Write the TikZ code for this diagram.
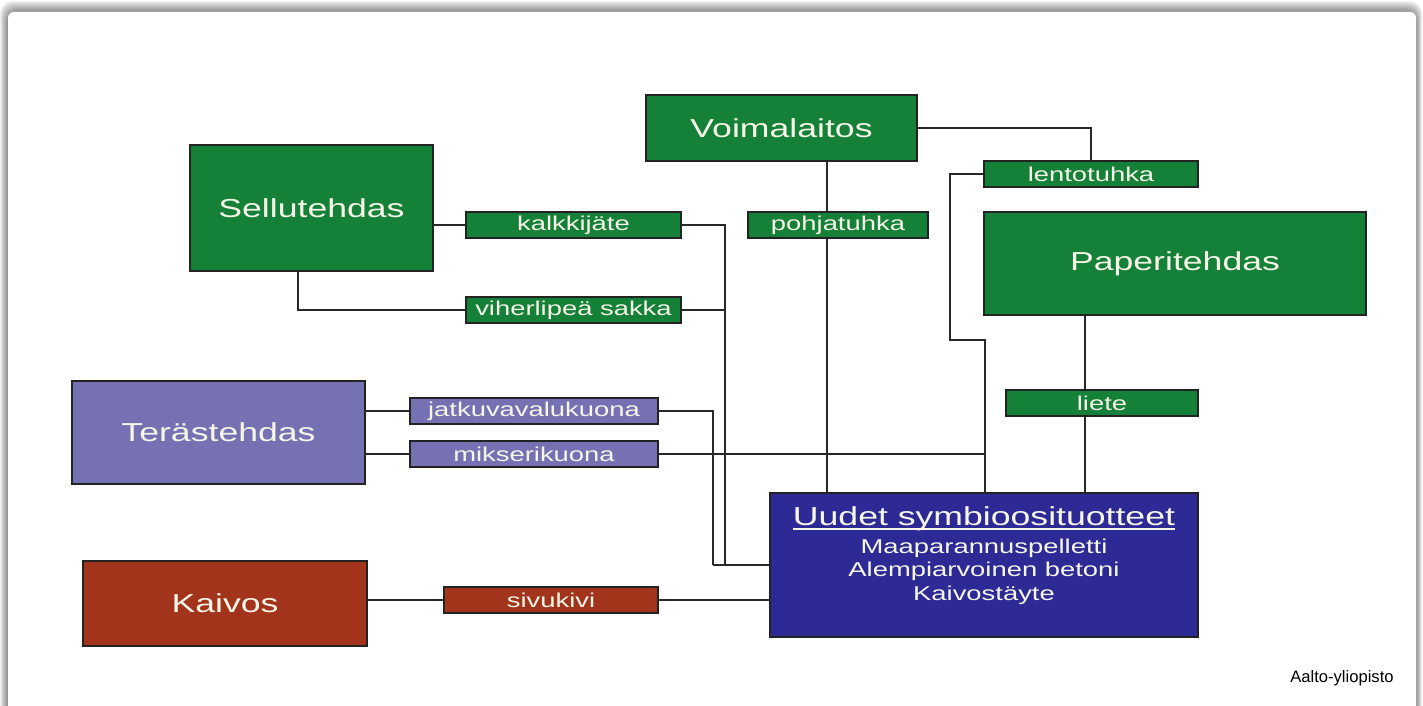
\documentclass[tikz,border=0pt]{standalone}
\usepackage{fontspec}
\setmainfont{Liberation Sans}
\usepackage{graphicx}
\usetikzlibrary{calc}
\definecolor{grn}{RGB}{20,128,56}
\definecolor{prp}{RGB}{118,113,178}
\definecolor{blu}{RGB}{45,42,150}
\definecolor{redb}{RGB}{163,52,28}
\definecolor{edge}{RGB}{35,35,35}
\definecolor{wirec}{RGB}{40,40,40}
\definecolor{txt}{RGB}{246,246,232}
\newcommand\sx[1]{\scalebox{1.37}[1]{#1}}
\pgfdeclarelayer{back}
\pgfdeclarelayer{wires}
\pgfsetlayers{back,wires,main}
\begin{document}
\begin{tikzpicture}[x=0.5pt,y=-0.5pt,
  box/.style={draw=edge, line width=0.75pt, inner sep=0pt, outer sep=0pt, anchor=north west,
    text=txt, font=\fontsize{13}{15}\selectfont},
  tag/.style={box, font=\fontsize{10}{12}\selectfont, minimum height=13pt},
  sub/.style={font=\fontsize{10}{12}\selectfont, text=txt, anchor=base, inner sep=0pt},
  wire/.style={draw=wirec, line width=0.75pt}]
\useasboundingbox (0,0) rectangle (1423,706);
\begin{pgfonlayer}{back}
  \fill[white] (0,0) rectangle (1423,706);
  \foreach \i in {1,...,10}
    \fill[black, opacity=0.05, rounded corners=6] (8-0.8*\i,12-1.1*\i) rectangle (1416+0.6*\i,740);
  \fill[white, rounded corners=3] (8,12) rectangle (1416,760);
\end{pgfonlayer}

% main boxes
\node[box, fill=grn, minimum width=135.5pt, minimum height=33pt] (voima) at (646,95) {\sx{Voimalaitos}};
\node[box, fill=grn, minimum width=121.5pt, minimum height=63pt] (sellu) at (190,145) {\sx{Sellutehdas}};
\node[box, fill=grn, minimum width=191pt, minimum height=51.5pt] (paperi) at (984,212) {\sx{Paperitehdas}};
\node[box, fill=prp, minimum width=146.5pt, minimum height=51.5pt] (teras) at (72,381) {\sx{Terästehdas}};
\node[box, fill=redb, minimum width=142pt, minimum height=42.5pt] (kaivos) at (83,561) {\sx{Kaivos}};
\node[box, fill=blu, minimum width=214pt, minimum height=72pt] (uudet) at (770,493) {};

% labels
\node[tag, fill=grn, minimum width=107.5pt] (kalk) at (466,212) {\sx{kalkkijäte}};
\node[tag, fill=grn, minimum width=107.5pt] (viher) at (466,297) {\sx{viherlipeä sakka}};
\node[tag, fill=grn, minimum width=90pt] (pohja) at (748,212) {\sx{pohjatuhka}};
\node[tag, fill=grn, minimum width=107pt] (lento) at (984,161) {\sx{lentotuhka}};
\node[tag, fill=grn, minimum width=96pt] (liete) at (1006,390) {\sx{liete}};
\node[tag, fill=prp, minimum width=124pt] (jatku) at (410,398) {\sx{jatkuvavalukuona}};
\node[tag, fill=prp, minimum width=124pt] (mikser) at (410,441) {\sx{mikserikuona}};
\node[tag, fill=redb, minimum width=107pt] (sivu) at (444,587) {\sx{sivukivi}};

% product box text
\node[sub, font=\fontsize{13}{15}\selectfont] (ut) at (984,525) {\sx{Uudet symbioosituotteet}};
\draw[txt, line width=1pt] ($(ut.base west)+(0,4)$) -- ($(ut.base east)+(0,4)$);
\node[sub] (u1) at (984,553) {\sx{Maaparannuspelletti}};
\node[sub] (u2) at (984,576) {\sx{Alempiarvoinen betoni}};
\node[sub] (u3) at (984,600) {\sx{Kaivostäyte}};

\node[font=\fontsize{8.3}{10}\selectfont, text=black, anchor=base east, inner sep=0pt] (aalto) at (1394,682) {Aalto-yliopisto};

% junction coordinates
\coordinate (c1) at (950,340);
\coordinate (c2) at (985,340);
\coordinate (vx) at (827,0);
\coordinate (sx) at (298,0);
\coordinate (px) at (1085,0);
\coordinate (j1) at (725,565);
\coordinate (j2) at (713,565);

\begin{pgfonlayer}{wires}
  \draw[wire] (voima.east) -| (lento.north);
  \draw[wire] (lento.west) -| (c1) -- (c2) -- (c2 |- uudet.north);
  \draw[wire] (vx |- voima.south) -- (vx |- uudet.north);
  \draw[wire] (sellu.east |- kalk.west) -- (kalk.west);
  \draw[wire] (kalk.east) -| (j1);
  \draw[wire] (j2) -- (j2 -| uudet.west);
  \draw[wire] (sx |- sellu.south) |- (viher.west);
  \draw[wire] (viher.east) -- (viher.east -| j1);
  \draw[wire] (teras.east |- jatku.west) -- (jatku.west);
  \draw[wire] (jatku.east) -| (j2);
  \draw[wire] (teras.east |- mikser.west) -- (mikser.west);
  \draw[wire] (mikser.east) -- (mikser.east -| c2);
  \draw[wire] (kaivos.east |- sivu.west) -- (sivu.west);
  \draw[wire] (sivu.east) -- (sivu.east -| uudet.west);
  \draw[wire] (px |- paperi.south) -- (px |- uudet.north);
\end{pgfonlayer}
\end{tikzpicture}
\end{document}
